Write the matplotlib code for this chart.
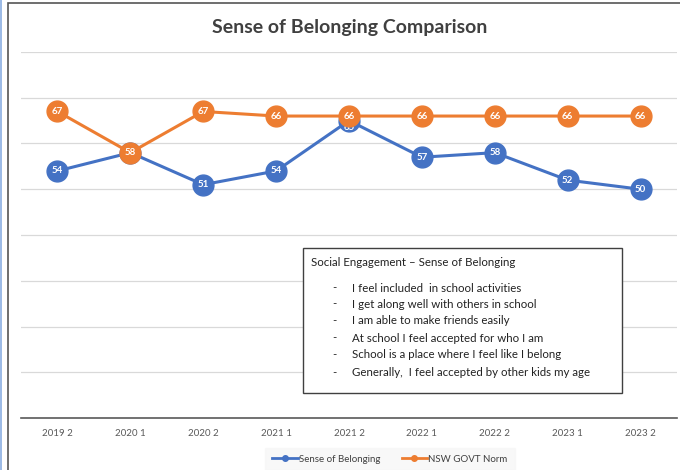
import matplotlib.pyplot as plt
from matplotlib.lines import Line2D
from matplotlib.patches import Rectangle

plt.rcParams['font.family'] = ['Lato', 'DejaVu Sans']

periods = ['2019 2', '2020 1', '2020 2', '2021 1', '2021 2', '2022 1', '2022 2', '2023 1', '2023 2']
belonging = [54, 58, 51, 54, 65, 57, 58, 52, 50]
nsw_norm = [67, 58, 67, 66, 66, 66, 66, 66, 66]

box_title = 'Social Engagement \u2013 Sense of Belonging'
box_items = [
    'I feel included  in school activities',
    'I get along well with others in school',
    'I am able to make friends easily',
    'At school I feel accepted for who I am',
    'School is a place where I feel like I belong',
    'Generally,  I feel accepted by other kids my age',
]

BLUE = '#4472C4'
ORANGE = '#ED7D31'

fig = plt.figure(figsize=(6.8, 4.7), dpi=100)
ax = fig.add_axes([21 / 680, 52 / 470, 656 / 680, 366 / 470])

x = list(range(len(periods)))
for vals, col, z in [(belonging, BLUE, 3), (nsw_norm, ORANGE, 4)]:
    ax.plot(x, vals, color=col, lw=2.2, marker='o', ms=15, mec=col, mfc=col, zorder=z)
    for xi, v in zip(x, vals):
        # blue label that sits just under an orange marker peeks out below it
        dy = 0
        if col == BLUE and 0 < nsw_norm[xi] - v <= 2:
            dy = -5
        ax.annotate(str(v), (xi, v), xytext=(0, dy), textcoords='offset points',
                    color='white', fontsize=7, fontweight='bold',
                    ha='center', va='center', zorder=z + 0.5)

ax.set_xlim(-0.5, len(periods) - 0.5)
ax.set_ylim(0, 80)
ax.set_yticks(range(10, 81, 10))
ax.yaxis.grid(True, color='#d9d9d9', lw=0.9)
ax.set_axisbelow(True)
ax.tick_params(axis='y', left=False, labelleft=False)
ax.set_xticks(x)
ax.set_xticklabels(periods, fontsize=7, color='#595959')
ax.tick_params(axis='x', length=0, pad=8)
for s in ['top', 'right', 'left']:
    ax.spines[s].set_visible(False)
ax.spines['bottom'].set_color('#595959')
ax.spines['bottom'].set_linewidth(1.2)

fig.text(350 / 680, 1 - 27 / 470, 'Sense of Belonging Comparison', ha='center', va='center',
         fontsize=14, fontweight='bold', color='#404040')

# description box
fig.patches.append(Rectangle((303 / 680, 1 - 393 / 470), 319 / 680, 145 / 470,
                             transform=fig.transFigure, fc='white', ec='#404040', lw=1, zorder=5))
fig.text(311 / 680, 1 - 262 / 470, box_title, fontsize=8.3, color='#222222', va='center', zorder=6)
item_y = [288, 304, 321, 338, 355, 373]
for yy, item in zip(item_y, box_items):
    fig.text(332 / 680, 1 - yy / 470, '-', fontsize=8.3, color='#222222', va='center', zorder=6)
    fig.text(352 / 680, 1 - yy / 470, item, fontsize=8.3, color='#222222', va='center', zorder=6)

handles = [Line2D([], [], color=BLUE, lw=2, marker='o', ms=4),
           Line2D([], [], color=ORANGE, lw=2, marker='o', ms=4)]
leg = fig.legend(handles, ['Sense of Belonging', 'NSW GOVT Norm'], loc='center',
                 bbox_to_anchor=(390 / 680, 1 - 459 / 470), ncol=2, frameon=True,
                 fontsize=7, handlelength=2.6, columnspacing=2.2, handletextpad=0.15,
                 fancybox=False, borderpad=0.7, borderaxespad=0)
leg.get_frame().set_facecolor('#f7f7f7')
leg.get_frame().set_edgecolor('#f7f7f7')
for t in leg.get_texts():
    t.set_color('#404040')

# chart border
fig.patches.append(Rectangle((8 / 680, -0.05), 1.0, 1 - 3 / 470 + 0.05,
                             transform=fig.transFigure, fill=False, ec='#555555', lw=1.2))
fig.patches.append(Rectangle((0, 0), 2 / 680, 1, transform=fig.transFigure,
                             fc='#9dbbe6', ec='none'))

fig.savefig('out.png', dpi=100)
